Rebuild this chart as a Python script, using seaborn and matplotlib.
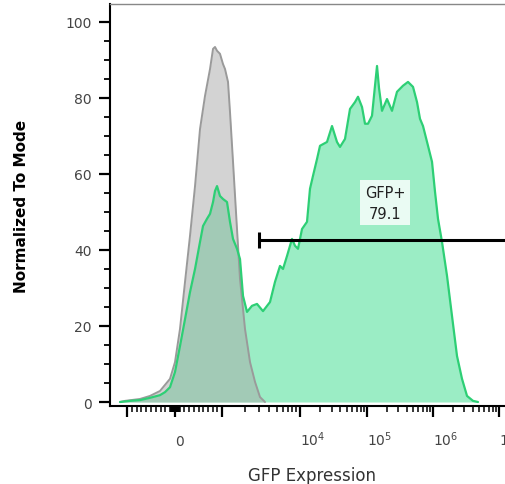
import numpy as np
import matplotlib
matplotlib.use("Agg")
import matplotlib.pyplot as plt
import seaborn as sns
from matplotlib.ticker import MultipleLocator, FixedLocator

# ---- histogram data (GFP intensity vs. % of mode) ----
control_gfp = [-1229, -1061, -729, -521, -313, -104, 0, 106, 213, 319, 426, 532,
               638, 745, 809, 851, 894, 957, 1030, 1093, 1194, 1266, 1384, 1557,
               1701, 1972, 2286, 2649, 3070, 3559]
control_pct = [0.0, 0.3, 0.8, 1.6, 2.9, 6.1, 10.5, 19.2, 31.6, 43.7, 56.8, 71.8,
               80.5, 87.6, 92.9, 93.4, 92.4, 91.6, 88.9, 87.6, 84.2, 76.3, 63.2, 45.5,
               32.4, 19.2, 10.5, 5.3, 1.3, 0.0]

sample_gfp = [-1229, -938, -729, -521, -313, -208, -104, 0, 106, 213, 319, 426,
              532, 596, 681, 745, 809, 851, 894, 957, 1030, 1159, 1266, 1384,
              1557, 1701, 1859, 2092, 2424, 2810, 3354, 4125, 4780, 5541, 6056,
              6813, 7897, 8628, 9427, 10710, 12720, 14100, 15630, 17940, 19890,
              25290, 30040, 35660, 39540, 46940, 55770, 66220, 73390, 84230,
              93360, 103550, 119000, 132200, 141800, 152000, 168800, 200900,
              239200, 284800, 351100, 418000, 497700, 572200, 635300, 705500,
              840000, 965600, 1072300, 1190000, 1369000, 1630000, 1941000,
              2310000, 2750000, 3275000, 4037000, 4806000]
sample_pct = [0.0, 0.3, 0.5, 1.1, 1.8, 2.6, 3.9, 7.9, 14.7, 21.8, 28.9, 35.0,
              42.1, 46.3, 48.2, 49.5, 52.6, 55.5, 56.8, 54.2, 53.4, 52.6, 47.4, 42.9,
              40.3, 37.6, 27.9, 23.7, 25.3, 25.8, 23.9, 26.3, 31.6, 35.8, 35.0,
              38.4, 42.9, 41.1, 40.3, 45.5, 47.4, 56.1, 59.5, 63.9, 67.4,
              68.4, 72.6, 68.4, 67.1, 69.2, 77.1, 78.9, 80.3, 77.6,
              73.2, 73.2, 75.3, 83.2, 88.4, 82.6, 76.6, 79.7,
              76.6, 81.6, 83.2, 84.2, 82.9, 78.9, 74.5, 72.6,
              67.4, 63.2, 55.3, 48.2, 42.1, 33.2, 22.6,
              12.1, 6.1, 1.6, 0.3, 0.0]

# gate
gate_name = "GFP+"
gate_pct = 79.1
gate_low = 2980
gate_level = 42.6

major_ticks = [-1000, 0, 1000, 1e4, 1e5, 1e6, 1e7]
major_labels = ["", "0", "", "$10^{4}$", "$10^{5}$", "$10^{6}$", "$10^{7}$"]

# ---- biexponential-like axis transform ----
DECADES = np.array([-3, -2, -1, 0, 1, 2, 3, 4, 5, 6], dtype=float)
STOPS = np.array([-29, 49, 127, 175, 222, 300, 367, 433, 499, 565], dtype=float)


def _to_decades(x):
    x = np.asarray(x, dtype=float)
    a = np.abs(x)
    return np.sign(x) * np.where(a <= 1000, a / 1000,
                                 1 + np.log10(np.maximum(a, 1000) / 1000))


def _from_decades(h):
    h = np.asarray(h, dtype=float)
    a = np.abs(h)
    return np.sign(h) * np.where(a <= 1, a * 1000,
                                 1000 * 10 ** (np.maximum(a, 1) - 1))


def fwd(x):
    return np.interp(_to_decades(x), DECADES, STOPS)


def inv(y):
    return _from_decades(np.interp(np.asarray(y, dtype=float), STOPS, DECADES))


sns.set_style("ticks")
plt.rcParams["font.family"] = ["DejaVu Sans"]
plt.rcParams["mathtext.default"] = "regular"

fig = plt.figure(figsize=(5.05, 4.85), dpi=100)
ax = fig.add_axes([110 / 505, 78 / 485, 404 / 505, 402 / 485])
ax.set_xscale("function", functions=(fwd, inv))

green_fill = "#9bedc5"
green_line = "#2dcf75"
gray_fill = "#a9a9a9"
gray_line = "#9a9a9a"

ax.fill_between(sample_gfp, sample_pct, 0, color=green_fill, lw=0, zorder=1)
ax.fill_between(control_gfp, control_pct, 0, color=gray_fill, alpha=0.5, lw=0, zorder=2)
sns.lineplot(x=control_gfp, y=control_pct, ax=ax, color=gray_line, lw=1.4,
             estimator=None, sort=False, zorder=3)
sns.lineplot(x=sample_gfp, y=sample_pct, ax=ax, color=green_line, lw=1.6,
             estimator=None, sort=False, zorder=4)

# gate bar
ax.plot([gate_low, 1e9], [gate_level, gate_level], color="black", lw=2.2,
        solid_capstyle="butt", zorder=5)
ax.plot([gate_low], [gate_level], marker="|", ms=11, mew=2.2, color="black", zorder=5)
ax.text(187400, 52.4, f"{gate_name}\n{gate_pct}", ha="center", va="center",
        fontsize=10.5, color="#222222", linespacing=1.5, zorder=6,
        bbox=dict(boxstyle="square,pad=0.3", fc="white", ec="none", alpha=0.8))

ax.set_xlim(-1652, 1.687e7)
ax.set_ylim(-1.05, 104.7)

# x ticks
ax.xaxis.set_major_locator(FixedLocator(major_ticks))
ax.set_xticklabels(major_labels)
minor = []
for k in range(1, 7):
    for n in range(2, 10):
        minor.append(n * 10 ** k)
        if k <= 3:
            minor.append(-n * 10 ** k)
minor += [10, 100, -10, -100]
ax.xaxis.set_minor_locator(FixedLocator(sorted(minor)))
ax.tick_params(axis="x", which="major", direction="out", length=8, width=1.6,
               pad=20, labelsize=10, labelcolor="#444444", color="black")
ax.tick_params(axis="x", which="minor", direction="out", length=4, width=1.1,
               color="black")
for t in ax.get_xticklabels():
    t.set_horizontalalignment("left")
    t.set_verticalalignment("baseline")

# y ticks
ax.set_yticks([0, 20, 40, 60, 80, 100])
ax.yaxis.set_minor_locator(MultipleLocator(5))
ax.tick_params(axis="y", which="major", direction="out", length=8, width=1.6,
               pad=5, labelsize=10, labelcolor="#444444", color="black")
ax.tick_params(axis="y", which="minor", direction="out", length=4, width=1.3,
               color="black")

for side in ["left", "bottom"]:
    ax.spines[side].set_color("black")
    ax.spines[side].set_linewidth(1.5)
ax.spines["top"].set_color("#888888")
ax.spines["top"].set_linewidth(1.0)
ax.spines["right"].set_visible(False)

ax.set_xlabel("GFP Expression", fontsize=12, color="#333333")
ax.xaxis.set_label_coords(0.5, -(481 - 407) / 402)
ax.xaxis.label.set_verticalalignment("baseline")

ax.set_ylabel("Normalized To Mode", fontsize=11, fontweight="bold", color="black")
ax.yaxis.set_label_coords((22 - 110) / 404, 0.5)
ax.yaxis.label.set_verticalalignment("center")
ax.yaxis.label.set_horizontalalignment("center")

fig.savefig("out.png", dpi=100)
